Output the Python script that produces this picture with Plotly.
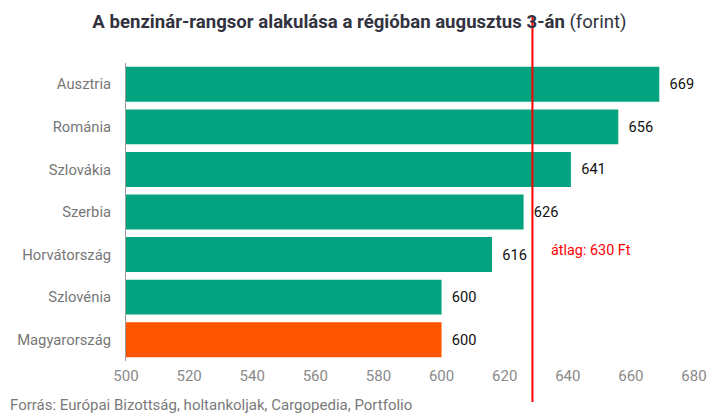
import plotly.graph_objects as go

countries = ['Ausztria', 'Románia', 'Szlovákia', 'Szerbia', 'Horvátország', 'Szlovénia', 'Magyarország']
prices = [669, 656, 641, 626, 616, 600, 600]
highlight = 'Magyarország'
avg_price = 628.8
avg_label = 'átlag: 630 Ft'

GREEN = '#03a37f'
ORANGE = '#ff5500'
FONT = 'Roboto'

colors = [ORANGE if c == highlight else GREEN for c in countries]

fig = go.Figure(go.Bar(
    x=prices, y=countries, orientation='h',
    marker_color=colors, marker_line_width=0,
    text=prices, textposition='outside', cliponaxis=False,
    texttemplate='  %{x}',
    textfont=dict(family=FONT, size=14.6, color='#111111'),
))

# average line, runs from under the title to below the tick labels
fig.add_shape(type='line', xref='x', yref='paper',
              x0=avg_price, x1=avg_price, y0=-0.138, y1=1.154,
              line=dict(color='#ff0000', width=2))
fig.add_annotation(x=634, y='Horvátország', xref='x', yref='y',
                   text=avg_label, showarrow=False, xanchor='left', yshift=4,
                   font=dict(family=FONT, size=14.4, color='#ff0000'))

# page body has an 8px margin, so the figure is 8px smaller than the window
fig.update_layout(
    width=710, height=407,
    margin=dict(l=118, r=24, t=55, b=54, autoexpand=False),
    plot_bgcolor='white', paper_bgcolor='white',
    bargap=0.18, showlegend=False,
    title=dict(
        text='<b>A benzinár-rangsor alakulása a régióban augusztus 3-án</b> (forint)',
        x=0.495, xanchor='center', y=0.966, yanchor='middle',
        font=dict(family=FONT, size=18.6, color='#333340'),
    ),
)
fig.add_annotation(xref='paper', yref='paper', x=-0.2077, y=-0.148, xanchor='left', yanchor='middle',
                   text='Forrás: Európai Bizottság, holtankoljak, Cargopedia, Portfolio', showarrow=False,
                   font=dict(family=FONT, size=15, color='#7a7a7a'))

fig.update_xaxes(range=[500, 680], dtick=20, showgrid=False, zeroline=False, automargin=False,
                 ticks='', ticklabelstandoff=4, tickfont=dict(family=FONT, size=15, color='#8a8a8a'))
fig.update_yaxes(autorange='reversed', showline=True, linecolor='#999999', linewidth=1,
                 ticks='', ticklabelstandoff=11, automargin=False,
                 tickfont=dict(family=FONT, size=14.8, color='#777777'))

fig.write_html('out.html')
